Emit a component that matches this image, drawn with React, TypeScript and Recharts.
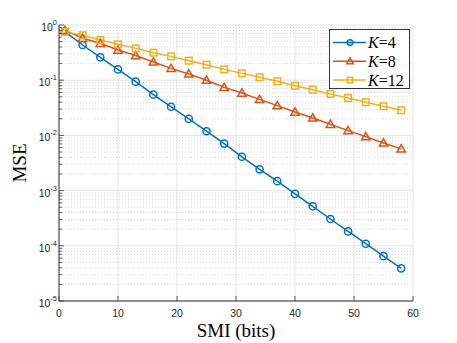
import React from 'react';
import { LineChart, Line, XAxis, YAxis, CartesianGrid, Legend } from 'recharts';

const smi = [1, 4, 7, 10, 13, 16, 19, 22, 25, 28, 31, 34, 37, 40, 43, 46, 49, 52, 55, 58];
const mseK4 = [
  0.756, 0.434, 0.26, 0.157, 0.094, 0.055, 0.033, 0.02, 0.0119, 0.0071,
  0.0041, 0.00243, 0.00148, 0.00087, 0.00052, 0.000306, 0.000182, 0.000109, 0.000065, 0.000039,
];
const mseK8 = [
  0.8, 0.574, 0.466, 0.352, 0.28, 0.214, 0.164, 0.13, 0.1, 0.074,
  0.0586, 0.045, 0.0346, 0.0265, 0.0207, 0.0159, 0.0122, 0.0095, 0.0073, 0.0057,
];
const mseK12 = [
  0.75, 0.65, 0.535, 0.447, 0.377, 0.315, 0.27, 0.226, 0.191, 0.157,
  0.133, 0.113, 0.0955, 0.0795, 0.0673, 0.0563, 0.0476, 0.0398, 0.0337, 0.0285,
];
const seriesNames = ['4', '8', '12'];

const xTicks = [0, 10, 20, 30, 40, 50, 60];
const yMajor = [1e-5, 1e-4, 1e-3, 1e-2, 1e-1, 1];
const yMinor = yMajor.slice(0, -1).flatMap((d) => [2, 3, 4, 5, 6, 7, 8, 9].map((m) => m * d));
const yTicks = [...yMajor, ...yMinor].sort((a, b) => a - b);

const data = smi.map((s, i) => ({ smi: s, k4: mseK4[i], k8: mseK8[i], k12: mseK12[i] }));

const BLUE = '#0072BD';
const ORANGE = '#D95319';
const YELLOW = '#EDB120';
const AXIS = '#333333';
const LABEL = '#262626';
const SANS = '"Liberation Sans", Arial, sans-serif';
const SERIF = '"Liberation Serif", "Times New Roman", serif';

const isMajor = (v: number) => yMajor.some((m) => Math.abs(v / m - 1) < 1e-6);

const Circle = ({ cx, cy, color, r = 3.6 }: any) => (
  <circle cx={cx} cy={cy} r={r} fill="none" stroke={color} strokeWidth={1.5} />
);
const Triangle = ({ cx, cy, color, s = 4.2 }: any) => (
  <polygon
    points={`${cx},${cy - s} ${cx - s},${cy + s * 0.75} ${cx + s},${cy + s * 0.75}`}
    fill="none"
    stroke={color}
    strokeWidth={1.5}
  />
);
const Square = ({ cx, cy, color, s = 3.3 }: any) => (
  <rect x={cx - s} y={cy - s} width={s * 2} height={s * 2} fill="none" stroke={color} strokeWidth={1.5} />
);

const LeftTick = ({ x, y, payload }: any) => {
  const major = isMajor(payload.value);
  const exp = Math.round(Math.log10(payload.value));
  return (
    <g>
      <line x1={x} x2={x + (major ? 5 : 3)} y1={y} y2={y} stroke={AXIS} strokeWidth={0.8} />
      {major && (
        <text x={x - 2} y={y + 6} textAnchor="end" fontFamily={SANS} fontSize={10.5} fill={LABEL}>
          10
          <tspan dy={-6} fontSize={7.5}>
            {exp}
          </tspan>
        </text>
      )}
    </g>
  );
};

const RightTick = ({ x, y, payload }: any) => {
  const major = isMajor(payload.value);
  return <line x1={x} x2={x - (major ? 5 : 3)} y1={y} y2={y} stroke={AXIS} strokeWidth={0.8} />;
};

const BottomTick = ({ x, y, payload }: any) => (
  <g>
    <line x1={x} x2={x} y1={y} y2={y - 5} stroke={AXIS} strokeWidth={0.8} />
    <text x={x} y={y + 16} textAnchor="middle" fontFamily={SANS} fontSize={10.5} fill={LABEL}>
      {payload.value}
    </text>
  </g>
);

const TopTick = ({ x, y }: any) => <line x1={x} x2={x} y1={y} y2={y + 5} stroke={AXIS} strokeWidth={0.8} />;

const legendRows = [
  { name: seriesNames[0], color: BLUE, Mark: Circle },
  { name: seriesNames[1], color: ORANGE, Mark: Triangle },
  { name: seriesNames[2], color: YELLOW, Mark: Square },
];

const LegendBox = () => (
  <svg width={81} height={60} style={{ display: 'block' }}>
    <rect x={0.5} y={0.5} width={80} height={59} fill="#fff" stroke={AXIS} strokeWidth={1} />
    {legendRows.map((r, i) => {
      const cy = 13.5 + i * 18.8;
      return (
        <g key={r.name}>
          <line x1={4} x2={37} y1={cy} y2={cy} stroke={r.color} strokeWidth={1.5} />
          <r.Mark cx={21} cy={cy} color={r.color} r={2.8} s={r.Mark === Triangle ? 3.4 : 2.7} />
          <text x={39} y={cy + 5.5} fontFamily={SERIF} fontSize={16} fill="#000">
            <tspan fontStyle="italic">K</tspan>={r.name}
          </text>
        </g>
      );
    })}
  </svg>
);

export default function App() {
  return (
    <div style={{ position: 'absolute', left: 0, top: 0, background: '#fff' }}>
      <LineChart width={457} height={343} data={data} margin={{ top: 25, right: 44, bottom: 0, left: 0 }}>
        <XAxis
          xAxisId="b"
          dataKey="smi"
          type="number"
          domain={[0, 60]}
          ticks={xTicks}
          interval={0}
          height={42}
          tickSize={0}
          tickMargin={0}
          tick={BottomTick}
          stroke={AXIS}
          label={{
            position: 'center',
            content: (p: any) => (
              <text
                x={p.viewBox.x + p.viewBox.width / 2}
                y={p.viewBox.y + 36}
                textAnchor="middle"
                fontFamily={SERIF}
                fontSize={19}
                fill="#000"
              >
                SMI (bits)
              </text>
            ),
          }}
        />
        <XAxis
          xAxisId="t"
          orientation="top"
          dataKey="smi"
          type="number"
          domain={[0, 60]}
          ticks={xTicks}
          interval={0}
          height={0}
          tickSize={0}
          tickMargin={0}
          tick={TopTick}
          stroke={AXIS}
        />
        <YAxis
          yAxisId="l"
          type="number"
          scale="log"
          domain={[1e-5, 1]}
          allowDataOverflow
          ticks={yTicks}
          interval={0}
          width={59}
          tickSize={0}
          tickMargin={0}
          tick={LeftTick}
          stroke={AXIS}
          label={{
            position: 'center',
            content: (p: any) => {
              const cx = 26;
              const cy = p.viewBox.y + p.viewBox.height / 2;
              return (
                <text
                  x={cx}
                  y={cy}
                  textAnchor="middle"
                  transform={`rotate(-90, ${cx}, ${cy})`}
                  fontFamily={SERIF}
                  fontSize={19}
                  fill="#000"
                >
                  MSE
                </text>
              );
            },
          }}
        />
        <YAxis
          yAxisId="r"
          orientation="right"
          type="number"
          scale="log"
          domain={[1e-5, 1]}
          allowDataOverflow
          ticks={yTicks}
          interval={0}
          width={0}
          tickSize={0}
          tickMargin={0}
          tick={RightTick}
          stroke={AXIS}
        />
        <CartesianGrid
          xAxisId="b"
          yAxisId="l"
          vertical={false}
          horizontalValues={yMinor}
          stroke="#d4d4d4"
          strokeDasharray="1 2"
        />
        <CartesianGrid
          xAxisId="b"
          yAxisId="l"
          horizontalValues={yMajor}
          verticalValues={xTicks}
          stroke="#e3e3e3"
        />
        <Line
          xAxisId="b"
          yAxisId="l"
          dataKey="k4"
          name="K=4"
          stroke={BLUE}
          strokeWidth={1.5}
          isAnimationActive={false}
          dot={(p: any) => <Circle key={`c${p.index}`} cx={p.cx} cy={p.cy} color={BLUE} />}
        />
        <Line
          xAxisId="b"
          yAxisId="l"
          dataKey="k8"
          name="K=8"
          stroke={ORANGE}
          strokeWidth={1.5}
          isAnimationActive={false}
          dot={(p: any) => <Triangle key={`t${p.index}`} cx={p.cx} cy={p.cy} color={ORANGE} />}
        />
        <Line
          xAxisId="b"
          yAxisId="l"
          dataKey="k12"
          name="K=12"
          stroke={YELLOW}
          strokeWidth={1.5}
          isAnimationActive={false}
          dot={(p: any) => <Square key={`s${p.index}`} cx={p.cx} cy={p.cy} color={YELLOW} />}
        />
        <Legend
          layout="vertical"
          align="center"
          verticalAlign="middle"
          wrapperStyle={{ top: 29, left: 329, width: 81, height: 60 }}
          content={() => <LegendBox />}
        />
      </LineChart>
    </div>
  );
}
